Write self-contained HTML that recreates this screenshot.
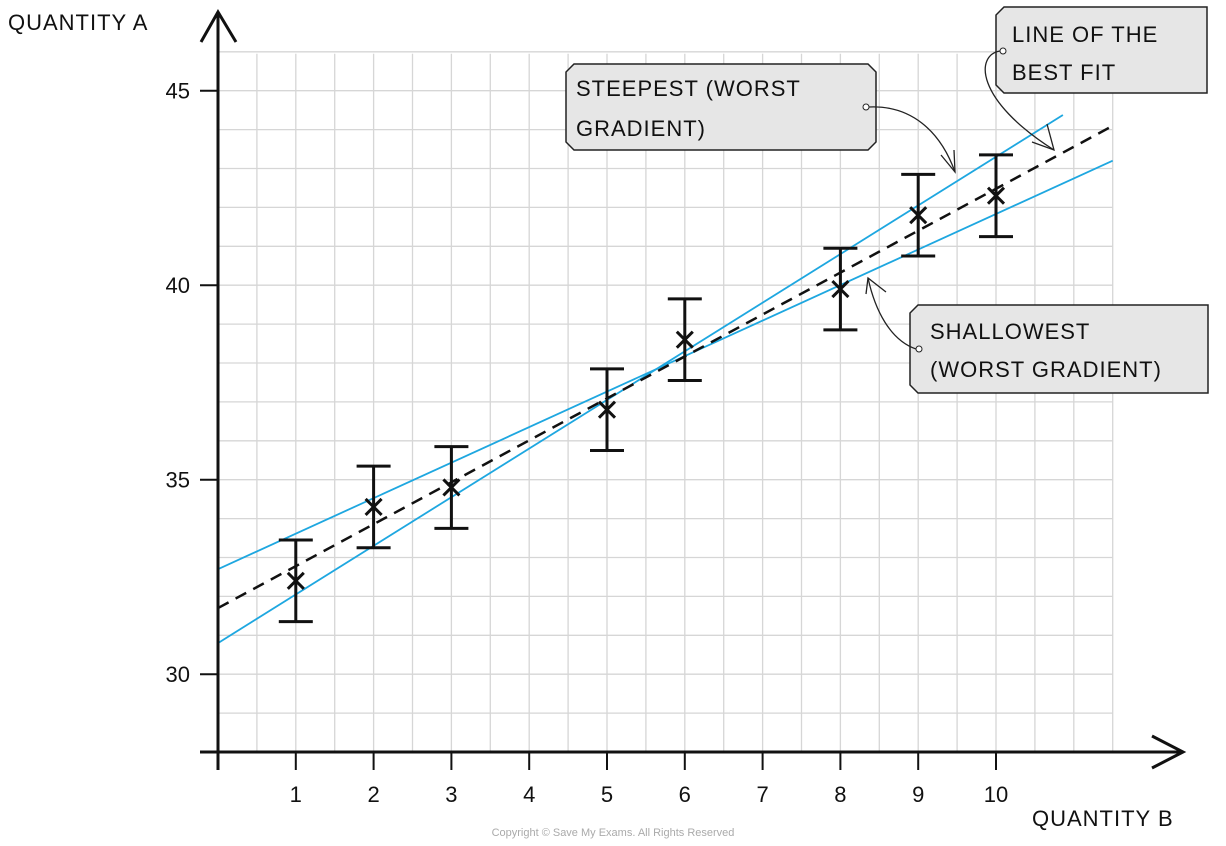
<!DOCTYPE html>
<html><head><meta charset="utf-8"><style>
body{margin:0;background:#fff}
svg{display:block;font-family:"Liberation Sans",sans-serif}
</style></head><body>
<svg id="c" width="1226" height="846" viewBox="0 0 1226 846">
<g id="grid"></g>
<g id="lines"></g>
<g id="pts"></g>
<g id="axes">
<line x1="218" y1="14" x2="218" y2="770" stroke="#111" stroke-width="3"/>
<polyline points="201,42 218,12 236,42" fill="none" stroke="#111" stroke-width="3"/>
<line x1="200" y1="752" x2="1183" y2="752" stroke="#111" stroke-width="3"/>
<polyline points="1152,736 1183,752 1152,768" fill="none" stroke="#111" stroke-width="3"/>
</g>
<g id="ticks"></g>
<text x="8" y="30" font-size="22" fill="#111" letter-spacing="1">QUANTITY A</text>
<text x="1032" y="826" font-size="22" fill="#111" letter-spacing="1">QUANTITY B</text>
<text x="613" y="836" font-size="11" fill="#aaa" text-anchor="middle">Copyright © Save My Exams. All Rights Reserved</text>

<g>
<path d="M574,64 H868 L876,72 V142 L868,150 H574 L566,142 V72 Z" fill="#e6e6e6" stroke="#222" stroke-width="1.5"/>
<text x="576" y="96" font-size="22" fill="#111" letter-spacing="1">STEEPEST (WORST</text>
<text x="576" y="136" font-size="22" fill="#111" letter-spacing="1">GRADIENT)</text>
<circle cx="866" cy="107" r="3" fill="#fff" stroke="#222"/>
<path d="M869,107 C910,105 940,130 955,172" fill="none" stroke="#222" stroke-width="1.3"/>
<polyline points="941,155 955,172 954,150" fill="none" stroke="#222" stroke-width="1.3"/>
</g>
<g>
<path d="M1004,7 H1207 V93 H1004 L996,85 V15 Z" fill="#e6e6e6" stroke="#222" stroke-width="1.5"/>
<text x="1012" y="42" font-size="22" fill="#111" letter-spacing="1">LINE OF THE</text>
<text x="1012" y="80" font-size="22" fill="#111" letter-spacing="1">BEST FIT</text>
<circle cx="1003" cy="51" r="3" fill="#fff" stroke="#222"/>
<path d="M1000,51 C975,55 975,100 1054,150" fill="none" stroke="#222" stroke-width="1.3"/>
<polyline points="1032,142 1054,150 1047,124" fill="none" stroke="#222" stroke-width="1.3"/>
</g>
<g>
<path d="M918,305 H1208 V393 H918 L910,385 V313 Z" fill="#e6e6e6" stroke="#222" stroke-width="1.5"/>
<text x="930" y="339" font-size="22" fill="#111" letter-spacing="1">SHALLOWEST</text>
<text x="930" y="377" font-size="22" fill="#111" letter-spacing="1">(WORST GRADIENT)</text>
<circle cx="919" cy="349" r="3" fill="#fff" stroke="#222"/>
<path d="M916,349 C890,340 875,310 868,278" fill="none" stroke="#222" stroke-width="1.3"/>
<polyline points="866,294 868,278 886,292" fill="none" stroke="#222" stroke-width="1.3"/>
</g>
</svg>
<script>
const xs=[1,2,3,5,6,8,9,10];
const ys=[32.4,34.3,34.8,36.8,38.6,39.9,41.8,42.3];
const errs=[1.05,1.05,1.05,1.05,1.05,1.05,1.05,1.05];
const xTicks=[1,2,3,4,5,6,7,8,9,10];
const yTicks=[30,35,40,45];
const bestFit=[31.7,1.078,11.5];
const steepest=[30.8,1.25,10.86];
const shallowest=[32.7,0.913,11.5];
const X=v=>218+v*77.8, Y=v=>752-(v-28)*38.9;
const NS="http://www.w3.org/2000/svg";
function mk(p,t,a){const e=document.createElementNS(NS,t);for(const k in a)e.setAttribute(k,a[k]);p.appendChild(e);return e;}
const g=document.getElementById('grid');
for(let i=1;i<=23;i++){const l=mk(g,'line',{x1:X(i*0.5),x2:X(i*0.5),y1:Y(45.95),y2:752,stroke:'#d6d6d6','stroke-width':1.3});

}
for(let v=29;v<=46;v++){const l=mk(g,'line',{x1:218,x2:X(11.5),y1:Y(v),y2:Y(v),stroke:'#d6d6d6','stroke-width':1.3});

}
const t=document.getElementById('ticks');
xTicks.forEach(v=>{const e=mk(t,'text',{x:X(v),y:802,'font-size':22,'text-anchor':'middle',fill:'#111'});e.textContent=v;


const tk=mk(t,'line',{x1:X(v),x2:X(v),y1:752,y2:770,stroke:'#111','stroke-width':2});

});
yTicks.forEach(v=>{const e=mk(t,'text',{x:190,y:Y(v)+8,'font-size':22,'text-anchor':'end',fill:'#111'});e.textContent=v;


const tk=mk(t,'line',{x1:200,x2:218,y1:Y(v),y2:Y(v),stroke:'#111','stroke-width':2});

});
const L=document.getElementById('lines');
function fit(a,name,col,dash,w){const l=mk(L,'line',{x1:X(0),y1:Y(a[0]),x2:X(a[2]),y2:Y(a[0]+a[1]*a[2]),stroke:col,'stroke-width':w});if(dash)l.setAttribute('stroke-dasharray',dash);

}
fit(steepest,'steepest-line','#1ea7e0',null,1.8);
fit(shallowest,'shallowest-line','#1ea7e0',null,1.8);
fit(bestFit,'best-fit-line','#111','12 8',2.5);
const P=document.getElementById('pts');
xs.forEach((x,i)=>{const cx=X(x),cy=Y(ys[i]),t1=Y(ys[i]+errs[i]),b1=Y(ys[i]-errs[i]);
const eb=mk(P,'path',{d:`M${cx},${t1}V${b1}M${cx-17},${t1}H${cx+17}M${cx-17},${b1}H${cx+17}`,stroke:'#111','stroke-width':3,fill:'none'});


const m=mk(P,'path',{d:`M${cx-8},${cy-8}L${cx+8},${cy+8}M${cx+8},${cy-8}L${cx-8},${cy+8}`,stroke:'#111','stroke-width':3});

});
</script>
</body></html>
